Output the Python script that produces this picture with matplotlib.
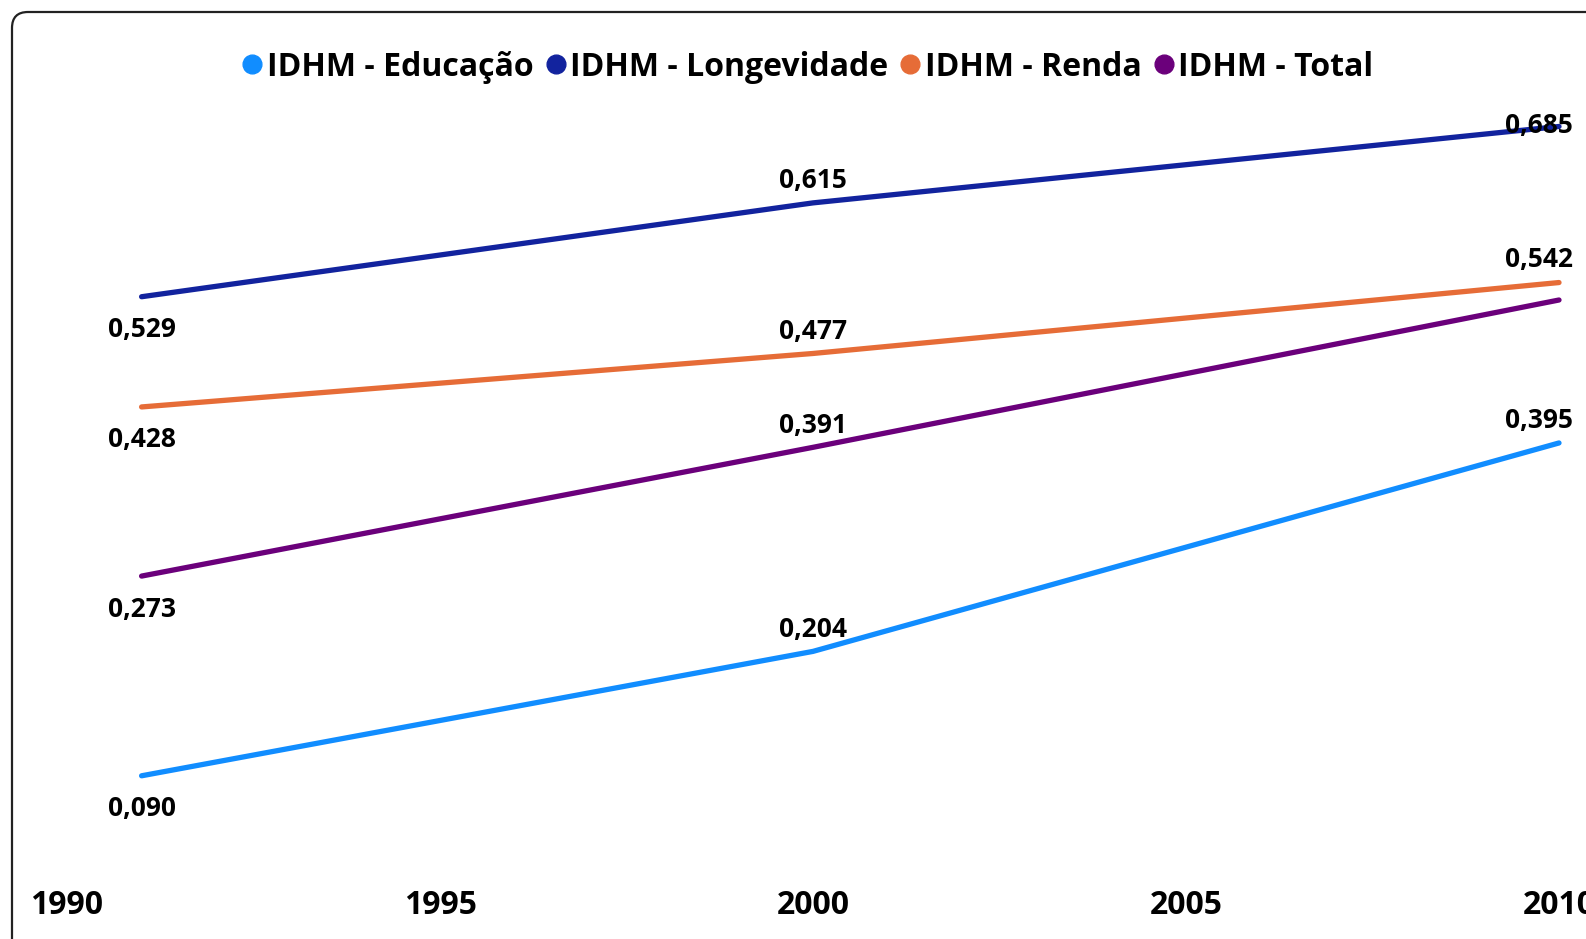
import matplotlib.pyplot as plt
from matplotlib.lines import Line2D
from matplotlib.patches import FancyBboxPatch

plt.rcParams["font.family"] = ["Open Sans", "DejaVu Sans"]
plt.rcParams["font.weight"] = "bold"

years = [1991, 2000, 2010]
series_names = ["IDHM - Educação", "IDHM - Longevidade", "IDHM - Renda", "IDHM - Total"]
educacao = [0.090, 0.204, 0.395]
longevidade = [0.529, 0.615, 0.685]
renda = [0.428, 0.477, 0.542]
total = [0.273, 0.391, 0.526]
colors = ["#118DFF", "#12239E", "#E66C37", "#6B007B"]
x_ticks = [1990, 1995, 2000, 2005, 2010]

W, H = 1586, 939
fig = plt.figure(figsize=(W / 100, H / 100), dpi=100)

# background axes in pixel units for the rounded card border (runs off right/bottom edge)
bg = fig.add_axes([0, 0, 1, 1], zorder=-1)
bg.set_xlim(0, W)
bg.set_ylim(H, 0)
bg.axis("off")
bg.add_patch(FancyBboxPatch((12, 12), W + 100, H + 100, boxstyle="round,pad=0,rounding_size=16",
                            facecolor="white", edgecolor="#222222", linewidth=1.6))

ax = fig.add_axes([67 / W, 65 / H, 1492 / W, 873 / H])
ax.set_xlim(1990, 2010)
ax.set_ylim(0, 0.8)
ax.patch.set_visible(False)
for s in ax.spines.values():
    s.set_visible(False)

all_series = [educacao, longevidade, renda, total]
for vals, c in zip(all_series, colors):
    ax.plot(years, vals, color=c, lw=3.8, solid_capstyle="round", clip_on=False)

# data labels: first point below, others above; last total label is hidden in the original
label_offsets = {
    0: [(0, -33), (0, 22), (-20, 22)],
    1: [(0, -33), (0, 22), (-20, 1)],
    2: [(0, -33), (0, 22), (-20, 23)],
    3: [(0, -33), (0, 22), None],
}
for i, vals in enumerate(all_series):
    for j, (x, v) in enumerate(zip(years, vals)):
        off = label_offsets[i][j]
        if off is None:
            continue
        ax.annotate(f"{v:.3f}".replace(".", ","), (x, v), xytext=off,
                    textcoords="offset pixels", ha="center", va="center",
                    fontsize=19, fontweight="bold", color="black",
                    annotation_clip=False)

ax.set_xticks(x_ticks)
ax.set_xticklabels([str(t) for t in x_ticks], fontsize=23, fontweight="bold")
ax.tick_params(axis="x", length=0, pad=11)
ax.set_yticks([])

handles = [Line2D([], [], marker="o", ls="none", color=c, markersize=13.5) for c in colors]
fig.legend(handles, series_names, loc="center", bbox_to_anchor=(808 / W, 1 - 67 / H),
           ncol=4, frameon=False, handlelength=0.6, handletextpad=0.15,
           columnspacing=0.4, borderaxespad=0, prop={"weight": "bold", "size": 23})

fig.savefig("out.png", dpi=100)
